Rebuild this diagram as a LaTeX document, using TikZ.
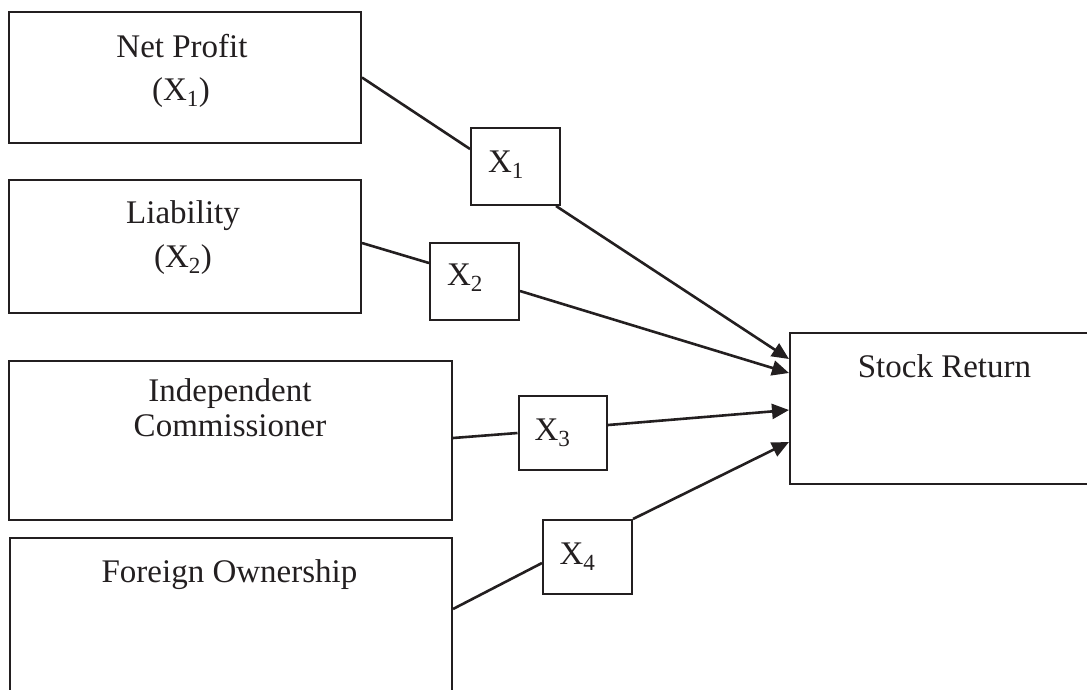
\documentclass[tikz,border=0pt]{standalone}
\usepackage{fontspec}
\setmainfont{Liberation Serif}
\usetikzlibrary{arrows.meta,calc}
\definecolor{ink}{HTML}{231F20}
\begin{document}
\begin{tikzpicture}[x=1pt,y=-1pt,
  box/.style={draw=ink,line width=2pt,rectangle,anchor=north west,inner sep=0pt},
  lbl/.style={anchor=base,text=ink,font=\fontsize{33}{39}\selectfont,inner sep=0pt},
  conn/.style={draw=ink,line width=2.6pt},
  arr/.style={conn,-{Triangle[length=17pt,width=15pt]}}]
\useasboundingbox (0,0) rectangle (1087,689);
\clip (0,0) rectangle (1087,689);
% boxes
\node[box,minimum width=352pt,minimum height=131pt] (np) at (8,11) {};
\node[box,minimum width=352pt,minimum height=133pt] (li) at (8,179) {};
\node[box,minimum width=443pt,minimum height=159pt] (ic) at (8,360) {};
\node[box,minimum width=442pt,minimum height=200pt] (fo) at (9,537) {};
\node[box,minimum width=89pt,minimum height=77pt] (x1) at (470,127) {};
\node[box,minimum width=89pt,minimum height=77pt] (x2) at (429,242) {};
\node[box,minimum width=88.5pt,minimum height=74pt] (x3) at (517.5,395) {};
\node[box,minimum width=89pt,minimum height=74pt] (x4) at (542,519) {};
\node[box,minimum width=320pt,minimum height=151pt] (sr) at (789,332) {};
% texts
\node[lbl] (t1a) at (182,57) {Net Profit};
\node[lbl] (t1b) at (181,100) {(X\textsubscript{1})};
\node[lbl] (t2a) at (183,223) {Liability};
\node[lbl] (t2b) at (183,267) {(X\textsubscript{2})};
\node[lbl] (t3a) at (230,401) {Independent};
\node[lbl] (t3b) at (230,436) {Commissioner};
\node[lbl] (t4) at (229.5,582) {Foreign Ownership};
\node[lbl] (t5) at (944.5,377) {Stock Return};
\node[lbl] (l1) at (506,172) {X\textsubscript{1}};
\node[lbl] (l2) at (465,285) {X\textsubscript{2}};
\node[lbl] (l3) at (552.5,440) {X\textsubscript{3}};
\node[lbl] (l4) at (577.5,564) {X\textsubscript{4}};
% connectors
\draw[conn] (np.east) -- ($(x1.north west)+(0,22)$);
\draw[arr] ($(x1.south east)+(-5,0)$) -- ($(sr.north west)+(0,27)$);
\draw[conn] ($(li.north east)+(0,64)$) -- ($(x2.north west)+(0,21)$);
\draw[arr] ($(x2.north east)+(0,49)$) -- ($(sr.north west)+(0,41)$);
\draw[conn] ($(ic.north east)+(0,78)$) -- ($(x3.north west)+(0,38)$);
\draw[arr] ($(x3.north east)+(0,30)$) -- ($(sr.north west)+(0,78)$);
\draw[conn] ($(fo.north east)+(0,72)$) -- ($(x4.north west)+(0,44)$);
\draw[arr] (x4.north east) -- ($(sr.north west)+(0,110)$);
\end{tikzpicture}
\end{document}
